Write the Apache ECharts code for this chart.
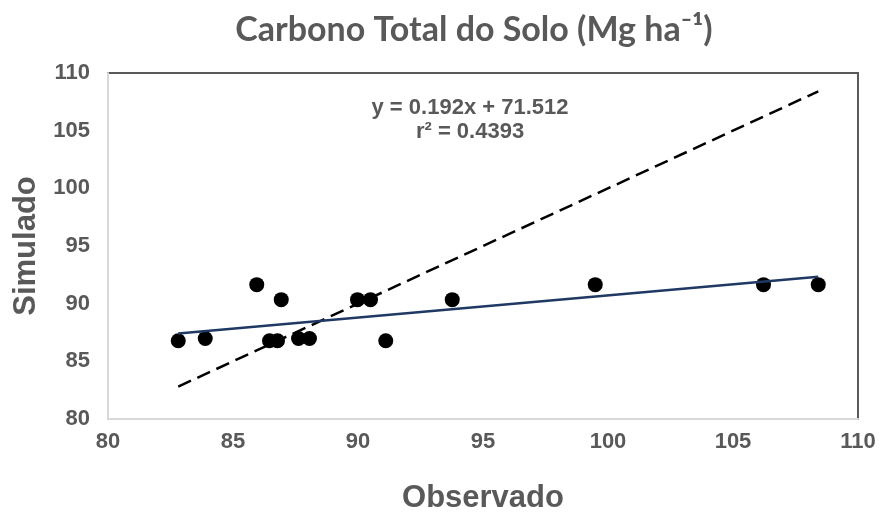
<!DOCTYPE html>
<html>
<head>
<meta charset="utf-8">
<script src="https://cdn.jsdelivr.net/npm/echarts@6/dist/echarts.min.js"></script>
<style>
html, body { margin: 0; padding: 0; background: #ffffff; }
#chart { width: 880px; height: 514px; }
</style>
</head>
<body>
<div id="chart"></div>
<script>
// Observed vs simulated total soil carbon (Mg ha-1)
const observado = [82.81, 83.89, 85.95, 86.46, 86.78, 86.93, 87.62, 88.06, 89.98, 90.50, 91.11, 93.77, 99.49, 106.22, 108.41];
const simulado  = [86.78, 86.98, 91.65, 86.78, 86.78, 90.35, 86.98, 86.98, 90.35, 90.35, 86.78, 90.35, 91.65, 91.65, 91.65];

// Axis ranges and tick step
const xRange = [80, 110];
const yRange = [80, 110];
const tickStep = 5;

// Linear fit reported on the chart
const slope = 0.192;
const intercept = 71.512;
const r2 = 0.4393;

const xMin = Math.min(...observado);
const xMax = Math.max(...observado);
const fitLine = [[xMin, slope * xMin + intercept], [xMax, slope * xMax + intercept]];
const identityLine = [[xMin, xMin], [xMax, xMax]];

const textGray = '#595959';
const chart = echarts.init(document.getElementById('chart'), null, { renderer: 'canvas' });

chart.setOption({
  backgroundColor: '#ffffff',
  animation: false,
  title: {
    text: 'Carbono Total do Solo (Mg ha\u207B\u00B9)',
    left: 469,
    top: 8,
    textAlign: 'center',
    textStyle: { fontFamily: 'Lato', fontWeight: 'bold', fontSize: 34, color: textGray }
  },
  grid: {
    left: 108, top: 73, width: 750, height: 346,
    outerBoundsMode: 'none', containLabel: false,
    show: true, borderColor: '#595959', borderWidth: 2, backgroundColor: 'transparent'
  },
  xAxis: {
    type: 'value',
    min: xRange[0], max: xRange[1], interval: tickStep,
    name: 'Observado', nameLocation: 'middle', nameGap: 64,
    nameTextStyle: { fontFamily: 'Liberation Sans', fontWeight: 'bold', fontSize: 31, color: textGray },
    axisLine: { show: true, lineStyle: { color: '#d9d9d9', width: 2 } },
    axisTick: { show: false },
    splitLine: { show: false },
    axisLabel: { margin: 12, fontFamily: 'Liberation Sans', fontWeight: 'bold', fontSize: 22, color: textGray }
  },
  yAxis: {
    type: 'value',
    min: yRange[0], max: yRange[1], interval: tickStep,
    name: 'Simulado', nameLocation: 'middle', nameGap: 66, nameRotate: 90,
    nameTextStyle: { fontFamily: 'Liberation Sans', fontWeight: 'bold', fontSize: 31, color: textGray },
    axisLine: { show: true, lineStyle: { color: '#d9d9d9', width: 2 } },
    axisTick: { show: false },
    splitLine: { show: false },
    axisLabel: { margin: 18, fontFamily: 'Liberation Sans', fontWeight: 'bold', fontSize: 22, color: textGray }
  },
  graphic: [
    {
      type: 'text', x: 470, y: 96, z: 10,
      style: {
        text: 'y = ' + slope + 'x + ' + intercept + '\nr\u00B2 = ' + r2,
        align: 'center', verticalAlign: 'top', lineHeight: 24,
        font: 'bold 22px "Liberation Sans"', fill: textGray
      }
    }
  ],
  series: [
    {
      type: 'scatter',
      data: observado.map((x, i) => [x, simulado[i]]),
      symbol: 'circle', symbolSize: 15,
      itemStyle: { color: '#000000', opacity: 1 },
      z: 2
    },
    {
      type: 'line',
      data: identityLine,
      showSymbol: false, symbol: 'none',
      lineStyle: { color: '#000000', width: 2.5, type: [14, 7] },
      z: 3
    },
    {
      type: 'line',
      data: fitLine,
      showSymbol: false, symbol: 'none',
      lineStyle: { color: '#1f3864', width: 2.5 },
      z: 4
    }
  ]
});
</script>
</body>
</html>
